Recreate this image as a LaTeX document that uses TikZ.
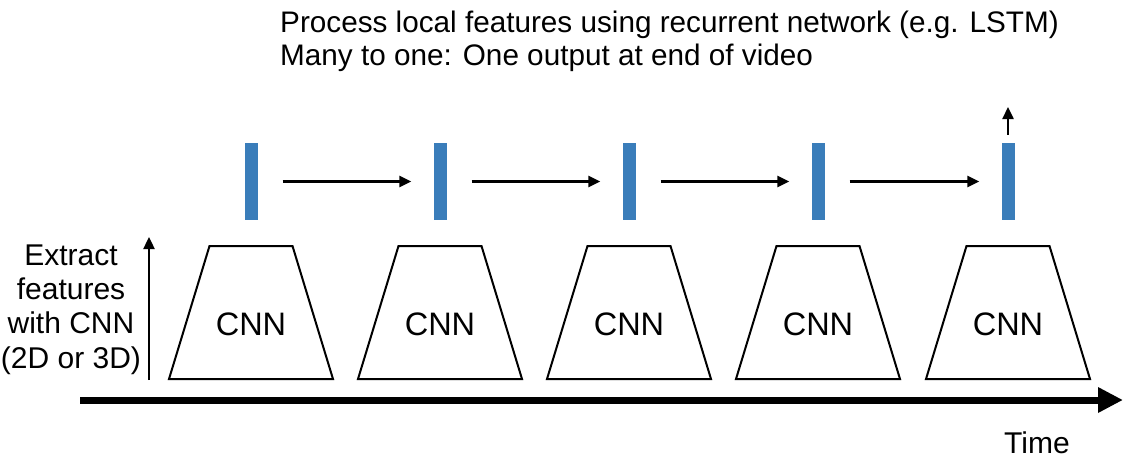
\documentclass[tikz,border=0pt]{standalone}
\usepackage{fontspec}
\setmainfont{Liberation Sans}
\usetikzlibrary{arrows.meta}
\definecolor{barblue}{RGB}{58,125,186}
\tikzset{
  bar/.style={rectangle, fill=barblue, draw=none, minimum width=13pt, minimum height=77pt, inner sep=0pt},
  cnnbox/.style={draw=black, line width=2pt, line join=miter},
  cnntext/.style={font=\fontsize{32.5}{38}\selectfont, inner sep=0pt},
  rnnarrow/.style={line width=2.4pt, -{Triangle[length=12pt,width=11pt]}},
  timearrow/.style={line width=7pt, -{Triangle[length=25pt,width=24pt]}},
  lbl/.style={font=\fontsize{30}{34.3}\selectfont, inner sep=0pt},
  ttl/.style={font=\fontsize{29.7}{33}\selectfont, inner sep=0pt}
}
\begin{document}
\begin{tikzpicture}[x=1pt,y=-1pt]
\useasboundingbox (0,0) rectangle (1130,469);
\foreach \i/\x in {1/251,2/440,3/629,4/818,5/1008}{
  \draw[cnnbox] (\x-82,379) -- (\x-41.5,246) -- (\x+41.5,246) -- (\x+82,379) -- cycle;
  \node[cnntext, anchor=base] (c\i) at (\x,335) {CNN};
  \node[bar] (b\i) at (\x,181.5) {};
}
\foreach \a/\b in {1/2,2/3,3/4,4/5}{
  \draw[rnnarrow, shorten <=25pt, shorten >=22pt] (b\a.east) -- (b\b.west);
}
\coordinate (outtop) at (1008,107);
\draw[rnnarrow, shorten <=8pt] (b5.north) -- (outtop);
\coordinate (vbot) at (149,380);
\coordinate (vtop) at (149,237);
\draw[rnnarrow] (vbot) -- (vtop);
\coordinate (tstart) at (80,400);
\coordinate (tend) at (1123,400);
\draw[timearrow] (tstart) -- (tend);
\node[lbl, anchor=base] (time) at (1037,453) {Time};
\node[ttl, anchor=base west] (title1) at (280,32) {Process local features using recurrent network (e.g. LSTM)};
\node[ttl, anchor=base west] (title2) at (280,65) {Many to one: One output at end of video};
\node[lbl, anchor=base, align=center] (left) at (71,368) {Extract\\features\\with CNN\\(2D or 3D)};
\end{tikzpicture}
\end{document}
